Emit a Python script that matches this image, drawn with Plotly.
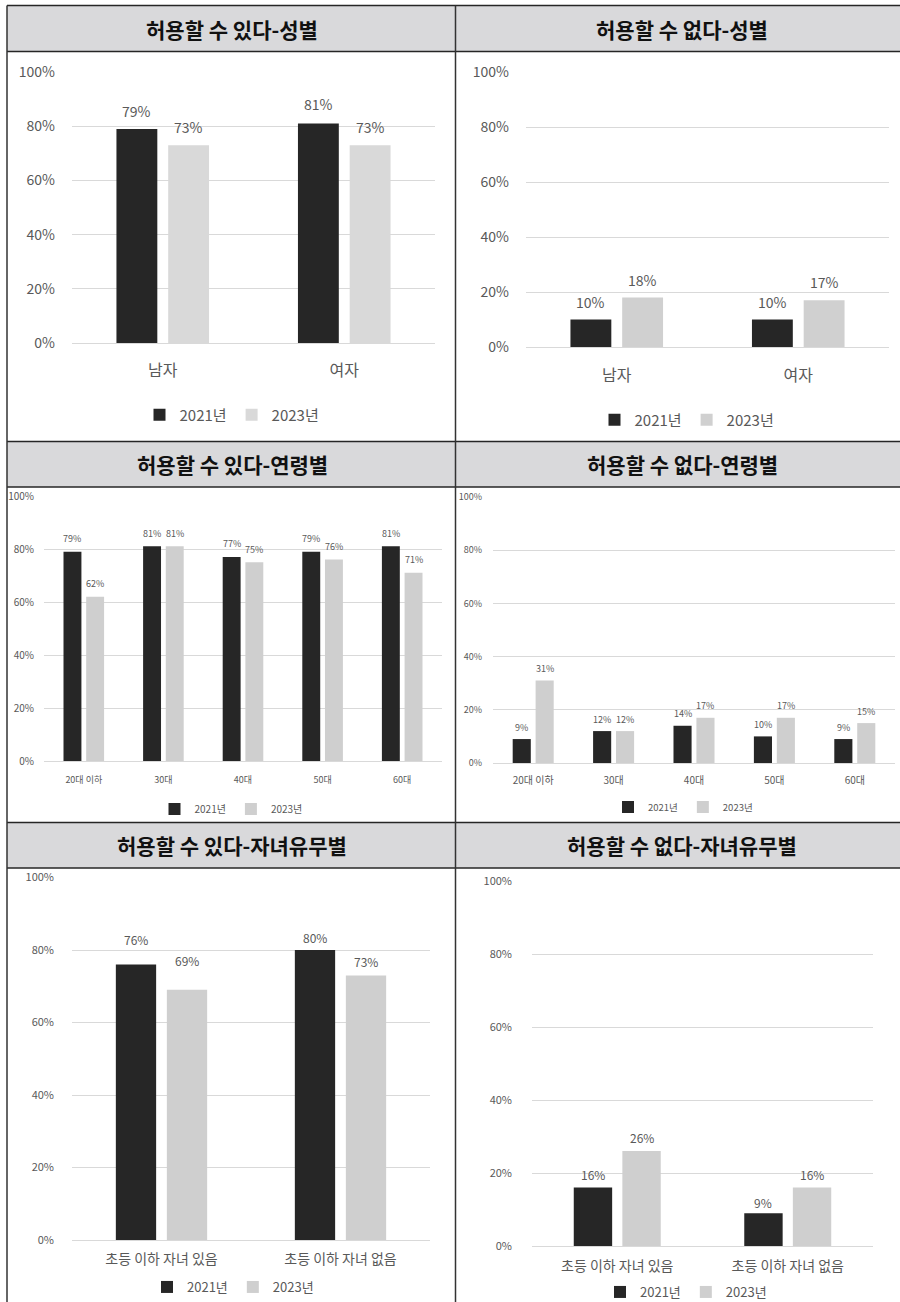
import plotly.graph_objects as go

W, H = 900, 1302
FONT = "Noto Sans CJK KR"

# ---------------- data ----------------
years = ["2021년", "2023년"]

gender_cats = ["남자", "여자"]
allow_gender_2021 = [0.79, 0.81]
allow_gender_2023 = [0.73, 0.73]
deny_gender_2021 = [0.10, 0.10]
deny_gender_2023 = [0.18, 0.17]

age_cats = ["20대 이하", "30대", "40대", "50대", "60대"]
allow_age_2021 = [0.79, 0.81, 0.77, 0.79, 0.81]
allow_age_2023 = [0.62, 0.81, 0.75, 0.76, 0.71]
deny_age_2021 = [0.09, 0.12, 0.14, 0.10, 0.09]
deny_age_2023 = [0.31, 0.12, 0.17, 0.17, 0.15]

child_cats = ["초등 이하 자녀 있음", "초등 이하 자녀 없음"]
allow_child_2021 = [0.76, 0.80]
allow_child_2023 = [0.69, 0.73]
deny_child_2021 = [0.16, 0.09]
deny_child_2023 = [0.26, 0.16]

titles = ["허용할 수 있다-성별", "허용할 수 없다-성별",
          "허용할 수 있다-연령별", "허용할 수 없다-연령별",
          "허용할 수 있다-자녀유무별", "허용할 수 없다-자녀유무별"]

tick_vals = [0, 0.2, 0.4, 0.6, 0.8, 1.0]
tick_text = ["0%", "20%", "40%", "60%", "80%", "100%"]

# ---------------- styling / geometry (pixels) ----------------
BARGAP = 0.43
GROUPGAP = 0.21
DARK = "#262626"
TXT = "#595959"

panels = [
    dict(cats=gender_cats, s1=allow_gender_2021, s2=allow_gender_2023,
         x0=72, x1=435, ytop=72, y0=343, light="#d9d9d9",
         tick_fs=14, cat_fs=16, lab_fs=14, leg_fs=15,
         ystand=16, xstand=13, dy=[[18, 19], [18, 18]], leg=(232, 415)),
    dict(cats=gender_cats, s1=deny_gender_2021, s2=deny_gender_2023,
         x0=526, x1=889, ytop=72, y0=347, light="#d0d0d0",
         tick_fs=14, cat_fs=16, lab_fs=14, leg_fs=15,
         ystand=16, xstand=14, dy=[[18, 18], [18, 18]], leg=(687, 420)),
    dict(cats=age_cats, s1=allow_age_2021, s2=allow_age_2023,
         x0=44, x1=442, ytop=496, y0=761, light="#cfcfcf",
         tick_fs=10, cat_fs=9, lab_fs=9, leg_fs=10,
         ystand=9, xstand=10, dy=[[13] * 5, [13] * 5], leg=(231, 809)),
    dict(cats=age_cats, s1=deny_age_2021, s2=deny_age_2023,
         x0=493, x1=895, ytop=497, y0=763, light="#cfcfcf",
         tick_fs=9, cat_fs=10, lab_fs=9, leg_fs=9.5,
         ystand=10, xstand=8, dy=[[12] * 5, [12] * 5], leg=(683, 807)),
    dict(cats=child_cats, s1=allow_child_2021, s2=allow_child_2023,
         x0=72, x1=430, ytop=877.5, y0=1240, light="#cfcfcf",
         tick_fs=11, cat_fs=14, lab_fs=12, leg_fs=13,
         ystand=17, xstand=6, dy=[[25, 13], [29, 14]], leg=(233, 1287)),
    dict(cats=child_cats, s1=deny_child_2021, s2=deny_child_2023,
         x0=532, x1=873, ytop=881, y0=1246, light="#cfcfcf",
         tick_fs=11, cat_fs=14, lab_fs=12, leg_fs=13,
         ystand=19, xstand=7, dy=[[13, 11], [14, 13]], leg=(686, 1292)),
]


def px_x(x):
    return x / W


def px_y(y):
    return 1 - y / H


fig = go.Figure()
layout = dict(
    width=W, height=H,
    margin=dict(l=0, r=0, t=0, b=0, pad=0, autoexpand=False),
    paper_bgcolor="white", plot_bgcolor="rgba(0,0,0,0)",
    bargap=BARGAP, bargroupgap=GROUPGAP, barmode="group",
    hovermode=False,
    font=dict(family=FONT, color=TXT),
)
annotations = []
shapes = []

for i, p in enumerate(panels):
    k = "" if i == 0 else str(i + 1)
    xa, ya = "x" + k, "y" + k
    legname = "legend" + k
    for j, (vals, col) in enumerate([(p["s1"], DARK), (p["s2"], p["light"])]):
        fig.add_trace(go.Bar(
            x=p["cats"], y=vals, name=years[j], xaxis=xa, yaxis=ya,
            marker=dict(color=col, line=dict(width=0)),
            legend=legname, showlegend=True,
        ))
    layout["xaxis" + k] = dict(
        domain=[px_x(p["x0"]), px_x(p["x1"])], anchor=ya, type="category",
        showgrid=False, showline=True, linecolor="#d9d9d9", linewidth=1,
        ticks="", tickfont=dict(size=p["cat_fs"], color=TXT, family=FONT),
        ticklabelstandoff=p["xstand"], fixedrange=True, automargin=False,
    )
    layout["yaxis" + k] = dict(
        domain=[px_y(p["y0"]), px_y(p["ytop"])], anchor=xa, range=[0, 1],
        tickvals=tick_vals, ticktext=tick_text, showgrid=True,
        gridcolor="#d9d9d9", gridwidth=1, zeroline=False, showline=False,
        ticks="", tickfont=dict(size=p["tick_fs"], color=TXT, family=FONT),
        ticklabelstandoff=p["ystand"], fixedrange=True, automargin=False,
    )
    layout[legname] = dict(
        orientation="h", x=px_x(p["leg"][0]), y=px_y(p["leg"][1]),
        xanchor="center", yanchor="middle", bgcolor="rgba(0,0,0,0)",
        font=dict(size=p["leg_fs"], color=TXT, family=FONT),
        itemwidth=30, traceorder="normal", itemclick=False,
        itemdoubleclick=False,
    )
    # data labels
    n = len(p["cats"])
    catw = (p["x1"] - p["x0"]) / n
    slot = catw * (1 - BARGAP) / 2
    for j, vals in enumerate([p["s1"], p["s2"]]):
        shift = (-slot / 2) if j == 0 else (slot / 2)
        for c, v in enumerate(vals):
            annotations.append(dict(
                x=p["cats"][c], y=v, xref=xa, yref=ya,
                text=f"{round(v * 100)}%", showarrow=False,
                xshift=shift, yshift=p["dy"][j][c],
                yanchor="middle", xanchor="center",
                font=dict(size=p["lab_fs"], color=TXT, family=FONT),
            ))

# table headers and borders
row_bounds = [(5.5, 51.5), (441.5, 487), (822.5, 868)]
col_centers = [232, 682]
for r, (t, b) in enumerate(row_bounds):
    shapes.append(dict(type="rect", xref="paper", yref="paper",
                       x0=px_x(7), x1=px_x(900), y0=px_y(b), y1=px_y(t),
                       fillcolor="#d9d9db", line=dict(width=0), layer="below"))
    for c in range(2):
        annotations.append(dict(
            x=px_x(col_centers[c]), y=px_y((t + b) / 2), xref="paper", yref="paper",
            text=f"<b>{titles[r * 2 + c]}</b>", showarrow=False,
            xanchor="center", yanchor="middle",
            font=dict(size=21, color="#111111", family=FONT),
        ))
    for yy in (t, b):
        shapes.append(dict(type="line", xref="paper", yref="paper",
                           x0=px_x(7), x1=px_x(900), y0=px_y(yy), y1=px_y(yy),
                           line=dict(color="#262626", width=1.5)))
for xx in (7, 455.5):
    shapes.append(dict(type="line", xref="paper", yref="paper",
                       x0=px_x(xx), x1=px_x(xx), y0=px_y(5.5), y1=0,
                       line=dict(color="#333333", width=1.5)))

layout["annotations"] = annotations
layout["shapes"] = shapes
fig.update_layout(**layout)
fig.write_html("out.html", config={"displayModeBar": False, "staticPlot": True})
